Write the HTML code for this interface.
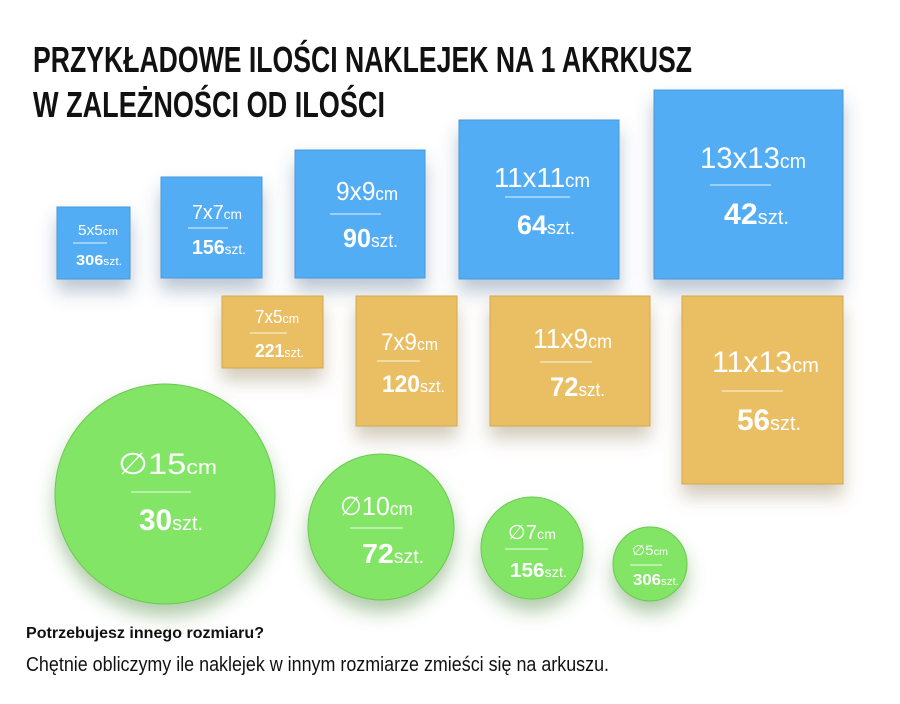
<!DOCTYPE html>
<html><head><meta charset="utf-8"><style>
html,body{margin:0;padding:0;background:#fff;}
svg{display:block;}
text{font-family:"Liberation Sans",sans-serif;fill:#fff;}
.t{fill:#111;font-weight:bold;}
.n{font-weight:bold;}
.s{font-weight:normal;}
</style></head><body>
<svg width="900" height="704" viewBox="0 0 900 704" xmlns="http://www.w3.org/2000/svg">
<defs>
<filter id="sb" x="-50%" y="-50%" width="200%" height="200%"><feDropShadow dx="0" dy="12" stdDeviation="9" flood-color="#3a5a80" flood-opacity="0.35"/></filter>
<filter id="so" x="-50%" y="-50%" width="200%" height="200%"><feDropShadow dx="0" dy="12" stdDeviation="9" flood-color="#806a3a" flood-opacity="0.35"/></filter>
<filter id="sg" x="-50%" y="-50%" width="200%" height="200%"><feDropShadow dx="0" dy="12" stdDeviation="9" flood-color="#3d8030" flood-opacity="0.4"/></filter>
</defs>
<text class="t" x="33" y="72" font-size="36" textLength="659" lengthAdjust="spacingAndGlyphs">PRZYKŁADOWE ILOŚCI NAKLEJEK NA 1 AKRKUSZ</text>
<text class="t" x="33" y="117" font-size="36" textLength="352" lengthAdjust="spacingAndGlyphs">W ZALEŻNOŚCI OD ILOŚCI</text>

<g fill="#53adf5" stroke="#4a98d8" stroke-width="1" filter="url(#sb)">
<rect x="57" y="207" width="73" height="72"/>
<rect x="161" y="177" width="101" height="101"/>
<rect x="295" y="150" width="130" height="128"/>
<rect x="459" y="120" width="160" height="159"/>
<rect x="654" y="90" width="189" height="189"/>
</g>
<g fill="#eabf63" stroke="#d2a850" stroke-width="1" filter="url(#so)">
<rect x="222" y="296" width="101" height="72"/>
<rect x="356" y="296" width="101" height="130"/>
<rect x="490" y="296" width="160" height="130"/>
<rect x="682" y="296" width="161" height="188"/>
</g>
<g fill="#82e566" stroke="#6cc852" stroke-width="1" filter="url(#sg)">
<circle cx="165" cy="494" r="110"/>
<circle cx="381" cy="527" r="73"/>
<circle cx="532" cy="548" r="51"/>
<circle cx="650" cy="564" r="37"/>
</g>

<g stroke="#fff" stroke-width="1" opacity="0.85">
<line x1="73" y1="243" x2="107" y2="243"/>
<line x1="188" y1="228" x2="228" y2="228"/>
<line x1="330" y1="214" x2="381" y2="214"/>
<line x1="505" y1="197" x2="570" y2="197"/>
<line x1="710" y1="185" x2="771" y2="185"/>
<line x1="250" y1="333" x2="287" y2="333"/>
<line x1="377" y1="361" x2="420" y2="361"/>
<line x1="540" y1="362" x2="592" y2="362"/>
<line x1="722" y1="391" x2="783" y2="391"/>
<line x1="131" y1="492" x2="191" y2="492"/>
<line x1="350" y1="528" x2="403" y2="528"/>
<line x1="505" y1="549" x2="548" y2="549"/>
<line x1="630" y1="565" x2="662" y2="565"/>
</g>

<!-- size labels -->
<text x="78" y="235" font-size="15" textLength="40" lengthAdjust="spacingAndGlyphs">5x5<tspan font-size="11">cm</tspan></text>
<text x="192" y="219" font-size="20" textLength="50" lengthAdjust="spacingAndGlyphs">7x7<tspan font-size="14">cm</tspan></text>
<text x="336" y="200" font-size="26" textLength="62" lengthAdjust="spacingAndGlyphs">9x9<tspan font-size="18">cm</tspan></text>
<text x="494" y="187" font-size="28" textLength="96" lengthAdjust="spacingAndGlyphs">11x11<tspan font-size="19">cm</tspan></text>
<text x="700" y="168" font-size="30" textLength="106" lengthAdjust="spacingAndGlyphs">13x13<tspan font-size="20">cm</tspan></text>
<text x="255" y="323" font-size="18" textLength="44" lengthAdjust="spacingAndGlyphs">7x5<tspan font-size="13">cm</tspan></text>
<text x="381" y="350" font-size="24" textLength="57" lengthAdjust="spacingAndGlyphs">7x9<tspan font-size="17">cm</tspan></text>
<text x="533" y="348" font-size="28" textLength="79" lengthAdjust="spacingAndGlyphs">11x9<tspan font-size="19">cm</tspan></text>
<text x="712" y="372" font-size="30" textLength="107" lengthAdjust="spacingAndGlyphs">11x13<tspan font-size="20">cm</tspan></text>
<text x="118" y="474" font-size="30" textLength="99" lengthAdjust="spacingAndGlyphs">∅15<tspan font-size="20">cm</tspan></text>
<text x="340" y="515" font-size="26" textLength="73" lengthAdjust="spacingAndGlyphs">∅10<tspan font-size="18">cm</tspan></text>
<text x="508" y="539" font-size="20" textLength="48" lengthAdjust="spacingAndGlyphs">∅7<tspan font-size="14">cm</tspan></text>
<text x="632" y="555" font-size="14" textLength="36" lengthAdjust="spacingAndGlyphs">∅5<tspan font-size="10">cm</tspan></text>

<!-- counts -->
<text class="n" x="76" y="265" font-size="15" textLength="46" lengthAdjust="spacingAndGlyphs">306<tspan class="s" font-size="11">szt.</tspan></text>
<text class="n" x="192" y="254" font-size="20" textLength="54" lengthAdjust="spacingAndGlyphs">156<tspan class="s" font-size="14">szt.</tspan></text>
<text class="n" x="343" y="247" font-size="26" textLength="55" lengthAdjust="spacingAndGlyphs">90<tspan class="s" font-size="18">szt.</tspan></text>
<text class="n" x="517" y="234" font-size="27" textLength="58" lengthAdjust="spacingAndGlyphs">64<tspan class="s" font-size="18">szt.</tspan></text>
<text class="n" x="724" y="224" font-size="30" textLength="65" lengthAdjust="spacingAndGlyphs">42<tspan class="s" font-size="20">szt.</tspan></text>
<text class="n" x="255" y="357" font-size="18" textLength="49" lengthAdjust="spacingAndGlyphs">221<tspan class="s" font-size="13">szt.</tspan></text>
<text class="n" x="382" y="392" font-size="24" textLength="63" lengthAdjust="spacingAndGlyphs">120<tspan class="s" font-size="17">szt.</tspan></text>
<text class="n" x="550" y="396" font-size="27" textLength="55" lengthAdjust="spacingAndGlyphs">72<tspan class="s" font-size="18">szt.</tspan></text>
<text class="n" x="737" y="430" font-size="30" textLength="64" lengthAdjust="spacingAndGlyphs">56<tspan class="s" font-size="20">szt.</tspan></text>
<text class="n" x="139" y="530" font-size="30" textLength="64" lengthAdjust="spacingAndGlyphs">30<tspan class="s" font-size="20">szt.</tspan></text>
<text class="n" x="362" y="563" font-size="28" textLength="62" lengthAdjust="spacingAndGlyphs">72<tspan class="s" font-size="19">szt.</tspan></text>
<text class="n" x="510" y="577" font-size="20" textLength="57" lengthAdjust="spacingAndGlyphs">156<tspan class="s" font-size="14">szt.</tspan></text>
<text class="n" x="633" y="585" font-size="16" textLength="46" lengthAdjust="spacingAndGlyphs">306<tspan class="s" font-size="11">szt.</tspan></text>

<text class="t" x="26" y="638" font-size="16" textLength="238" lengthAdjust="spacingAndGlyphs">Potrzebujesz innego rozmiaru?</text>
<text x="26" y="671" font-size="20" style="fill:#111" textLength="583" lengthAdjust="spacingAndGlyphs">Chętnie obliczymy ile naklejek w innym rozmiarze zmieści się na arkuszu.</text>
</svg>
</body></html>
